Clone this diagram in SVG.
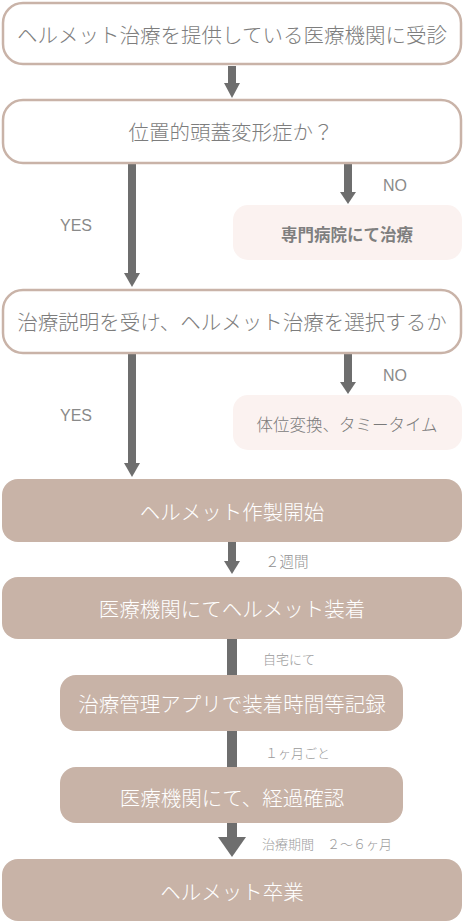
<svg xmlns="http://www.w3.org/2000/svg" width="464" height="922" viewBox="0 0 464 922">
<style>
text{font-family:"Noto Sans CJK JP","Noto Sans",sans-serif;text-anchor:middle;dominant-baseline:central;font-weight:300}
.out rect{fill:#fff;stroke:#c9b3a8;stroke-width:2.5}
.out text{fill:#7d7d7d;font-size:20.5px}
.fill rect{fill:#c8b3a7}
.fill text{fill:#fff;font-size:20.5px}
.pink rect{fill:#fbf2f0}
.pink text{fill:#7a7a7a;font-size:16.5px}
.pink text.b{font-weight:bold;fill:#7f7f7f}
.lbl{fill:#8a8a8a;font-size:16px;text-anchor:start;font-family:"Liberation Sans","Noto Sans",sans-serif}
.jl{fill:#8f8f8f;font-size:14.5px;text-anchor:start}
.sm{fill:#9a9a9a;font-size:13px;text-anchor:start}
.conn rect,.conn path{fill:#6e6e6e}
</style>
<rect width="464" height="922" fill="#fff"/>
<g id="connectors" class="conn">
<rect x="228" y="66" width="8" height="18"/><path d="M224 83 L240 83 L232 98 Z"/>
<rect x="128" y="163" width="8" height="112"/><path d="M124 273 L140 273 L132 287 Z"/>
<rect x="344" y="163" width="8" height="30"/><path d="M340 192 L356 192 L348 204 Z"/>
<rect x="128" y="353" width="8" height="112"/><path d="M124 463 L140 463 L132 477 Z"/>
<rect x="344" y="353" width="8" height="30"/><path d="M340 382 L356 382 L348 394 Z"/>
<rect x="228" y="542" width="8" height="20"/><path d="M224 561 L240 561 L232 574 Z"/>
<rect x="227" y="639" width="10" height="37"/>
<rect x="227" y="731" width="10" height="37"/>
<rect x="227" y="823" width="10" height="15"/><path d="M218 837 L246 837 L232 857 Z"/>
</g>
<g id="labels">
<text class="lbl" x="383" y="185">NO</text>
<text class="lbl" x="60" y="225">YES</text>
<text class="lbl" x="383" y="375">NO</text>
<text class="lbl" x="60" y="415">YES</text>
<text class="jl" x="265" y="560">２週間</text>
<text class="sm" x="263" y="658">自宅にて</text>
<text class="sm" x="265" y="752">１ヶ月ごと</text>
<text class="sm" x="262" y="843">治療期間　２～６ヶ月</text>
</g>
<g id="n1" class="out"><rect x="3" y="3" width="458" height="61" rx="20"/><text x="232" y="34">ヘルメット治療を提供している医療機関に受診</text></g>
<g id="n2" class="out"><rect x="3" y="100" width="458" height="63" rx="20"/><text x="231" y="131">位置的頭蓋変形症か？</text></g>
<g id="n3" class="pink"><rect x="233" y="205" width="229" height="55" rx="15"/><text class="b" x="347" y="234">専門病院にて治療</text></g>
<g id="n4" class="out"><rect x="3" y="290" width="458" height="63" rx="20"/><text x="232" y="321">治療説明を受け、ヘルメット治療を選択するか</text></g>
<g id="n5" class="pink"><rect x="233" y="395" width="229" height="55" rx="15"/><text x="347" y="424" font-size="17">体位変換、タミータイム</text></g>
<g id="n6" class="fill"><rect x="2" y="479" width="460" height="63" rx="16"/><text x="232" y="511">ヘルメット作製開始</text></g>
<g id="n7" class="fill"><rect x="2" y="577" width="460" height="62" rx="16"/><text x="232" y="608">医療機関にてヘルメット装着</text></g>
<g id="n8" class="fill"><rect x="60" y="675" width="343" height="56" rx="16"/><text x="232" y="703" font-size="19.5">治療管理アプリで装着時間等記録</text></g>
<g id="n9" class="fill"><rect x="60" y="767" width="343" height="56" rx="16"/><text x="232" y="797" font-size="19.5">医療機関にて、経過確認</text></g>
<g id="n10" class="fill"><rect x="2" y="859" width="460" height="62" rx="16"/><text x="232" y="891" font-size="21.5">ヘルメット卒業</text></g>
</svg>
